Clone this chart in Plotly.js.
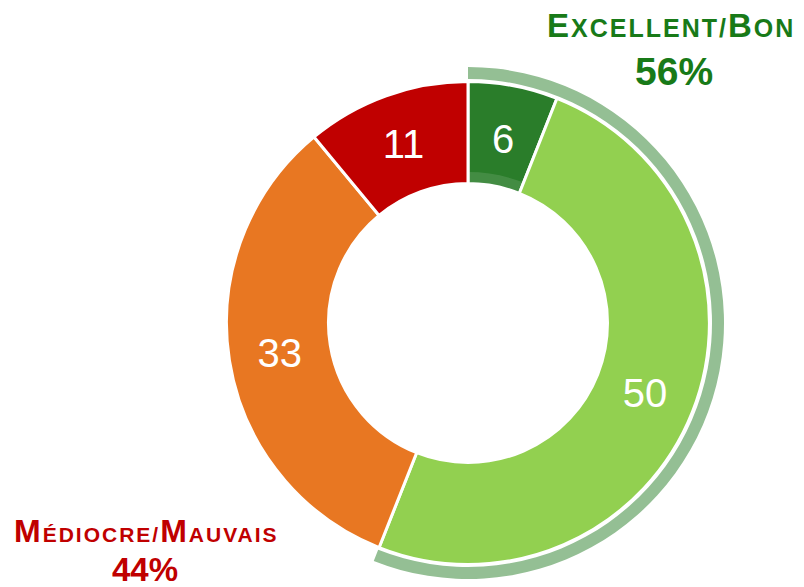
<!DOCTYPE html>
<html>
<head>
<meta charset="utf-8">
<script src="https://cdn.plot.ly/plotly-3.0.1.min.js"></script>
<style>html,body{margin:0;padding:0;background:#fff;}#chart{width:804px;height:587px;}</style>
</head>
<body>
<div id="chart"></div>
<script>
// ---- data ----
const categories = ['Excellent', 'Bon', 'Médiocre', 'Mauvais'];
const values = [6, 50, 33, 11];
const sliceColors = ['#2a7d2a', '#92d050', '#e87722', '#c00000'];
const groupLabels = ['Excellent/Bon', 'Médiocre/Mauvais'];
const groupValues = [56, 44];
const groupColors = ['#94bf94', 'rgba(0,0,0,0)'];

// ---- geometry ----
const W = 804, H = 587;
const cx = 468, cy = 323;
function dom(r) {
  return {x: [(cx - r) / W, (cx + r) / W], y: [(H - cy - r) / H, (H - cy + r) / H]};
}
function px(x) { return x / W; }
function py(y) { return 1 - y / H; }

const labelFont = {family: 'Liberation Sans, Arial, sans-serif', size: 40, color: '#ffffff'};

const outerArc = {
  type: 'pie', labels: groupLabels, values: groupValues, sort: false,
  direction: 'clockwise', rotation: 0, hole: 244 / 256, domain: dom(256),
  marker: {colors: groupColors, line: {width: 0}},
  textinfo: 'none', hoverinfo: 'skip', showlegend: false
};
// main ring; the label of the narrow first slice is drawn by a label layer below
const donut = {
  type: 'pie', labels: categories, values: values, sort: false,
  direction: 'clockwise', rotation: 0, hole: 139.5 / 241.5, domain: dom(241.5),
  marker: {colors: sliceColors, line: {color: '#ffffff', width: 3}},
  text: values.map((v, i) => i === 0 ? '' : String(v)),
  textinfo: 'text', textposition: 'inside', insidetextorientation: 'horizontal',
  insidetextfont: labelFont,
  hoverinfo: 'skip', showlegend: false
};
const band = {
  type: 'pie', labels: ['band', 'rest'], values: [values[0], values[1] + values[2] + values[3]], sort: false,
  direction: 'clockwise', rotation: 0, hole: 141 / 151, domain: dom(151),
  marker: {colors: ['rgba(255,255,255,0.12)', 'rgba(0,0,0,0)'], line: {width: 0}},
  textinfo: 'none', hoverinfo: 'skip', showlegend: false
};
// transparent label layer so the narrow slice's value sits mid-ring
const labelLayer = {
  type: 'pie', labels: categories, values: values, sort: false,
  direction: 'clockwise', rotation: 0, hole: 0.3, domain: dom(223),
  marker: {colors: values.map(() => 'rgba(0,0,0,0)'), line: {width: 0}},
  text: values.map((v, i) => i === 0 ? String(v) : ''),
  textinfo: 'text', textposition: 'inside', insidetextorientation: 'horizontal',
  insidetextfont: labelFont,
  hoverinfo: 'skip', showlegend: false
};

const F = 'Liberation Sans, Arial, sans-serif';
const green = '#187a18', red = '#c00000';
function sc(big, small, bs, ss) {
  return '<span style="font-size:' + bs + 'px;letter-spacing:2px">' + big + '</span>' +
         '<span style="font-size:' + ss + 'px;letter-spacing:2px">' + small + '</span>';
}
const annotations = [
  {text: '<b>' + sc('E', 'XCELLENT/', 33, 25) + sc('B', 'ON', 33, 25) + '</b>',
   x: px(671), y: py(25), xref: 'paper', yref: 'paper', xanchor: 'center', yanchor: 'middle',
   showarrow: false, font: {family: F, color: green, size: 25}},
  {text: '<b>' + groupValues[0] + '%</b>',
   x: px(674), y: py(72), xref: 'paper', yref: 'paper', xanchor: 'center', yanchor: 'middle',
   showarrow: false, font: {family: F, color: green, size: 39}},
  {text: '<b>' + sc('M', 'ÉDIOCRE/', 32, 21) + sc('M', 'AUVAIS', 32, 21) + '</b>',
   x: px(146), y: py(531), xref: 'paper', yref: 'paper', xanchor: 'center', yanchor: 'middle',
   showarrow: false, font: {family: F, color: red, size: 21}},
  {text: '<b>' + groupValues[1] + '%</b>',
   x: px(145), y: py(569), xref: 'paper', yref: 'paper', xanchor: 'center', yanchor: 'middle',
   showarrow: false, font: {family: F, color: red, size: 33}}
];

Plotly.newPlot('chart', [outerArc, donut, band, labelLayer], {
  width: W, height: H, margin: {l: 0, r: 0, t: 0, b: 0},
  paper_bgcolor: '#ffffff', plot_bgcolor: '#ffffff',
  showlegend: false, annotations: annotations
}, {displayModeBar: false, staticPlot: true});
</script>
</body>
</html>
